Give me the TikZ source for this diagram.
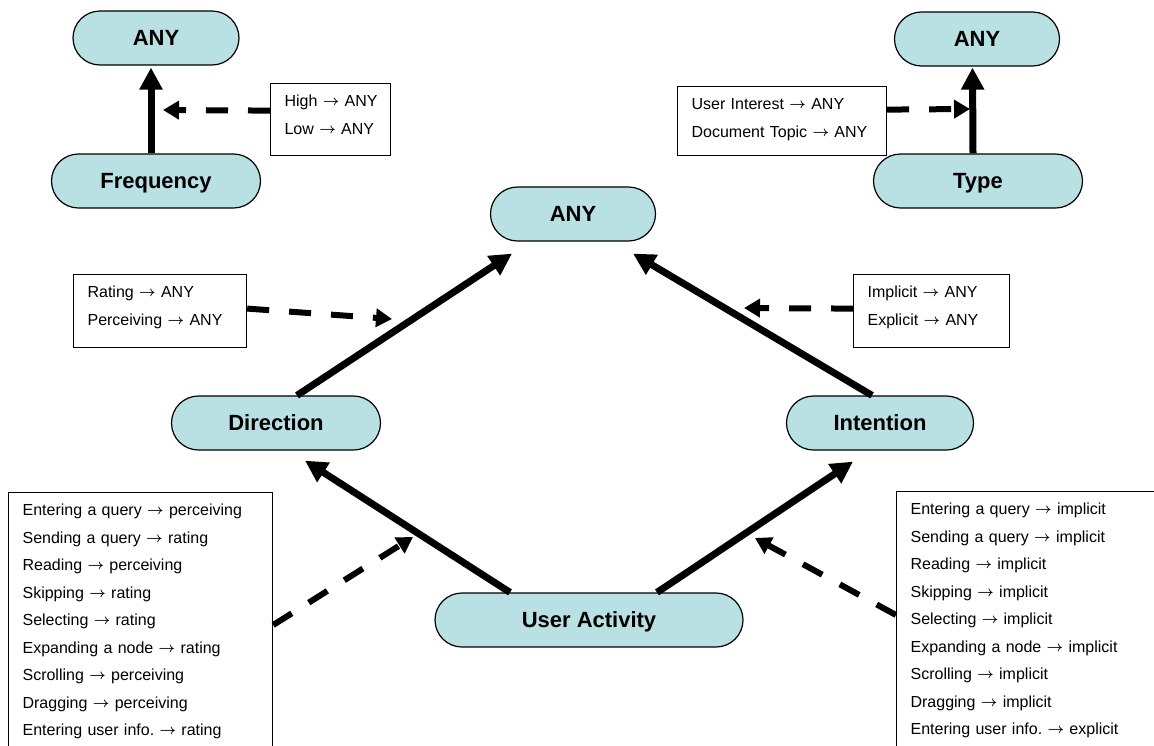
\documentclass[tikz,border=0pt]{standalone}
\usepackage{fontspec}
\setmainfont{Liberation Sans}
\usetikzlibrary{arrows.meta}
\definecolor{pillfill}{RGB}{185,224,227}
\newcommand*{\rulefont}{\fontsize{16}{27.5}\selectfont}
\newcommand*{\pillfont}{\bfseries\fontsize{22}{26}\selectfont}
\newcommand*{\yields}{~\raisebox{0.8pt}{\fontsize{14}{14}\selectfont\boldmath$\rightarrow$}~}

\begin{document}
\begin{tikzpicture}[x=1pt, y=-1pt,
    generalize/.style={line width=7pt, -{Triangle[length=22pt, width=22pt]}},
    maps/.style={line width=6pt, dash pattern=on 22pt off 20pt,
      -{Triangle[length=16pt, width=18pt]}}]
  \useasboundingbox (0,0) rectangle (1154,745);
  \clip (0,0) rectangle (1154,745);

  % hierarchy levels
  {\tikzstyle{every node}=[draw, fill=pillfill, line width=1.2pt,
      rounded corners=27pt, minimum height=54pt, text height=16pt,
      text depth=1pt, font=\pillfont]
    \foreach \n/\x/\y/\w/\t in {anyf/156/38/166/ANY, freq/156/181/209/Frequency,
        anyt/977/39/165/ANY, type/978/181/209/Type,
        anyc/573/214/165/ANY, dir/276/423/209/Direction,
        int/880/423/187/Intention, ua/589/620/308/User Activity}
    {
      \node[minimum width=\w] (\n) at (\x,\y) {\t};
    }
  }

  % value mappings
  {\tikzstyle{every node}=[draw, fill=white, line width=1.2pt, anchor=north west,
      align=left, inner xsep=14pt, inner ysep=0pt, text height=23pt, font=\rulefont]
    \node[text width=92pt, text depth=49pt] (hl) at (270,83)
      {High\yields ANY\\Low\yields ANY};
    \node[text width=181pt, text depth=46pt] (ud) at (677,86)
      {User Interest\yields ANY\\Document Topic\yields ANY};
    \node[text width=145pt, text depth=50pt] (rp) at (73,274)
      {Rating\yields ANY\\Perceiving\yields ANY};
    \node[text width=128pt, text depth=50pt] (ie) at (853,274)
      {Implicit\yields ANY\\Explicit\yields ANY};
    \node[text width=236pt, text depth=300pt] (lbox) at (8,492)
      {Entering a query\yields perceiving\\Sending a query\yields rating\\
       Reading\yields perceiving\\Skipping\yields rating\\Selecting\yields rating\\
       Expanding a node\yields rating\\Scrolling\yields perceiving\\
       Dragging\yields perceiving\\Entering user info.\yields rating};
    \node[text width=290pt, text depth=300pt] (rbox) at (896,491)
      {Entering a query\yields implicit\\Sending a query\yields implicit\\
       Reading\yields implicit\\Skipping\yields implicit\\Selecting\yields implicit\\
       Expanding a node\yields implicit\\Scrolling\yields implicit\\
       Dragging\yields implicit\\Entering user info.\yields explicit};
  }

  \coordinate (fq) at (163,110);
  \coordinate (ty) at (970,109);
  \coordinate (dr) at (392,319);
  \coordinate (in) at (744,308);
  \coordinate (ual) at (413,537);
  \coordinate (uar) at (755,538);

  \draw[generalize]
    ([xshift=-5pt]freq.north) -- ([xshift=-5pt, yshift=-2pt]anyf.south);
  \draw[generalize]
    ([xshift=-5pt]type.north) -- ([xshift=-4.5pt, yshift=-1pt]anyt.south);
  \draw[generalize]
    ([xshift=21pt]dir.north) -- ([xshift=-61pt, yshift=-12pt]anyc.south);
  \draw[generalize]
    ([xshift=-8pt]int.north) -- ([xshift=60pt, yshift=-12pt]anyc.south);
  \draw[generalize]
    ([xshift=-79pt]ua.north) -- ([xshift=29pt, yshift=-10pt]dir.south);
  \draw[generalize]
    ([xshift=68pt]ua.north) -- ([xshift=-27pt, yshift=-11pt]int.south);

  \draw[maps] ([yshift=9pt]hl.west) -- (fq);
  \draw[maps] ([yshift=11.5pt]ud.east) -- (ty);
  \draw[maps] ([yshift=2.5pt]rp.east) -- (dr);
  \draw[maps] ([yshift=2.5pt]ie.west) -- (in);
  \draw[maps] ([yshift=-133pt]lbox.north east) -- (ual);
  \draw[maps] ([yshift=-124pt]rbox.north west) -- (uar);
\end{tikzpicture}
\end{document}
